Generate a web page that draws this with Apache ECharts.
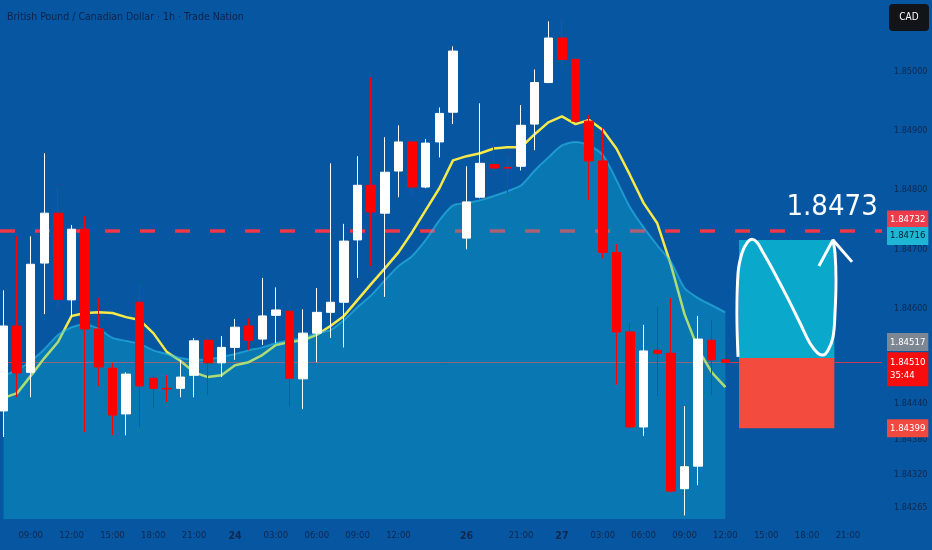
<!DOCTYPE html>
<html><head><meta charset="utf-8">
<script src="https://cdn.jsdelivr.net/npm/echarts@6/dist/echarts.min.js"></script>
<style>html,body{margin:0;padding:0;background:#0656a2;}#c{width:932px;height:550px;}</style>
</head><body><div id="c"></div>
<script>
const FONT = "'Liberation Sans Narrow','DejaVu Sans Condensed','Liberation Sans',sans-serif";
const titleText = 'British Pound / Canadian Dollar · 1h · Trade Nation';
const currency = 'CAD';

// hourly bars (x categories)
const categories = ['07:00','08:00','09:00','10:00','11:00','12:00','13:00','14:00','15:00','16:00',
 '17:00','18:00','19:00','20:00','21:00','22:00','23:00','24','01:00','02:00',
 '03:00','04:00','05:00','06:00','07:00','08:00','09:00','10:00','11:00','12:00',
 '13:00','14:00','15:00','16:00','26','18:00','19:00','20:00','21:00','22:00',
 '23:00','27','01:00','02:00','03:00','04:00','05:00','06:00','07:00','08:00',
 '09:00','10:00','11:00','12:00','13:00','14:00','15:00','16:00','17:00','18:00',
 '19:00','20:00','21:00','22:00','23:00'];
const labelIndex = [2,5,8,11,14,17,20,23,26,29,34,38,41,44,47,50,53,56,59,62];
const dayLabels = ['24','26','27'];
const yTicks = [1.85000,1.84900,1.84800,1.84700,1.84600,1.84440,1.84380,1.84320,1.84265];
const yMin = 1.84246, yMax = 1.85120;

const open = [1.84428,1.84571,1.84493,1.84677,1.84761,1.84615,1.84734,1.84566,1.84500,1.84423,
1.84611,1.84483,1.84466,1.84466,1.84488,1.84547,1.84509,1.84535,1.84571,1.84549,
1.84589,1.84596,1.84482,1.84559,1.84594,1.84611,1.84716,1.84808,1.84761,1.84832,
1.84881,1.84805,1.84881,1.84931,1.84719,1.84788,1.84843,1.84838,1.84840,1.84911,
1.84981,1.85056,1.85020,1.84916,1.84849,1.84695,1.84561,1.84401,1.84530,1.84525,
1.84297,1.84335,1.84547,1.84514];
const close = [1.84571,1.84492,1.84675,1.84761,1.84616,1.84734,1.84566,1.84502,1.84421,1.84490,
1.84470,1.84466,1.84465,1.84485,1.84546,1.84509,1.84535,1.84569,1.84547,1.84588,
1.84598,1.84483,1.84559,1.84594,1.84611,1.84714,1.84808,1.84763,1.84830,1.84881,
1.84805,1.84879,1.84929,1.85034,1.84780,1.84845,1.84837,1.84837,1.84909,1.84981,
1.85056,1.85020,1.84916,1.84849,1.84695,1.84561,1.84401,1.84529,1.84525,1.84293,
1.84334,1.84549,1.84514,1.84510];
const low = [1.84384,1.84451,1.84451,1.84591,1.84603,1.84586,1.84392,1.84470,1.84387,1.84387,
1.84401,1.84433,1.84443,1.84451,1.84451,1.84455,1.84485,1.84514,1.84530,1.84539,
1.84542,1.84435,1.84431,1.84510,1.84551,1.84535,1.84652,1.84672,1.84620,1.84788,
1.84791,1.84803,1.84855,1.84911,1.84700,1.84786,1.84835,1.84795,1.84833,1.84867,
1.84980,1.85010,1.84914,1.84783,1.84685,1.84472,1.84399,1.84386,1.84453,1.84291,
1.84252,1.84303,1.84455,1.84507];
const high = [1.84631,1.84722,1.84722,1.84862,1.84805,1.84741,1.84756,1.84618,1.84509,1.84493,
1.84640,1.84487,1.84488,1.84514,1.84551,1.84552,1.84554,1.84583,1.84584,1.84652,
1.84636,1.84615,1.84599,1.84635,1.84845,1.84743,1.84857,1.84990,1.84889,1.84909,
1.84884,1.84886,1.84939,1.85042,1.84840,1.84946,1.84881,1.84859,1.84943,1.85003,
1.85084,1.85086,1.85024,1.84926,1.84904,1.84709,1.84576,1.84573,1.84603,1.84618,
1.84436,1.84588,1.84581,1.84517];
const ema = [1.84450,1.84458,1.84487,1.84517,1.84544,1.84588,1.84593,1.84594,1.84593,1.84586,
1.84581,1.84559,1.84527,1.84512,1.84493,1.84485,1.84488,1.84505,1.84510,1.84522,
1.84539,1.84544,1.84547,1.84556,1.84571,1.84588,1.84615,1.84642,1.84668,1.84695,
1.84729,1.84766,1.84803,1.84850,1.84857,1.84862,1.84870,1.84872,1.84872,1.84894,
1.84914,1.84924,1.84911,1.84918,1.84901,1.84870,1.84825,1.84778,1.84744,1.84674,
1.84591,1.84532,1.84493,1.84468];
const baseline = [1.84487,1.84497,1.84512,1.84532,1.84556,1.84569,1.84573,1.84566,1.84551,1.84546,
1.84541,1.84530,1.84524,1.84517,1.84514,1.84515,1.84519,1.84524,1.84530,1.84535,
1.84542,1.84547,1.84551,1.84559,1.84564,1.84581,1.84603,1.84623,1.84648,1.84672,
1.84689,1.84716,1.84749,1.84774,1.84778,1.84783,1.84790,1.84798,1.84808,1.84833,
1.84855,1.84875,1.84881,1.84875,1.84859,1.84817,1.84771,1.84737,1.84707,1.84679,
1.84635,1.84618,1.84606,1.84594];

// price levels
const resistance = 1.84732, target = 1.84716, entry = 1.84517, lastPrice = 1.84510, stop = 1.84399;
const countdown = '35:44';
const zoneStart = 54, zoneEnd = 61;
// hand-drawn projection (bar position, price)
const curveX = [53.93,53.85,53.93,54.22,54.59,54.96,55.32,55.76,56.50,57.53,58.48,59.21,59.80,60.17,60.54,60.90,61.05,61.12,61.05,60.90];
const curveY = [1.84519,1.84593,1.84660,1.84694,1.84711,1.84717,1.84712,1.84695,1.84665,1.84620,1.84576,1.84542,1.84525,1.84522,1.84530,1.84552,1.84593,1.84648,1.84694,1.84716];
const arrowX = [59.87,60.90,62.30];
const arrowY = [1.84672,1.84716,1.84679];
const bigLabel = '1.8473';
const bigLabelPos = [57.45, 1.84771];

const candleData = open.map((o,i)=>[o, close[i], low[i], high[i]]);
const curveData = curveX.map((x,i)=>[x, curveY[i]]);
const arrowData = arrowX.map((x,i)=>[x, arrowY[i]]);

function tagLabel(text, bg, fg, dy, extra) {
  return Object.assign({show: true, position: 'end', distance: 5, formatter: text,
      backgroundColor: bg, color: fg, padding: [3,3], fontSize: 9.5, lineHeight: 12,
      fontFamily: FONT, offset: [0, dy], opacity: 1}, extra || {});
}
function tag(value, bg, fg, dy) {
  return {yAxis: value, lineStyle: {color: 'rgba(0,0,0,0)', width: 1, opacity: 1},
    label: tagLabel(value.toFixed(5), bg, fg, dy)};
}

const chart = echarts.init(document.getElementById('c'), null, {renderer: 'canvas'});
chart.setOption({
  animation: false,
  backgroundColor: '#0656a2',
  textStyle: {fontFamily: FONT},
  title: {text: titleText, left: 2, top: 7,
    textStyle: {color: '#0e2247', fontSize: 10.5, fontWeight: 'normal', fontFamily: FONT}},
  grid: {left: -3.31, right: 50, top: 0, bottom: 31, outerBoundsMode: 'none'},
  xAxis: [{
    type: 'category', data: categories, boundaryGap: true,
    axisLine: {show: false}, axisTick: {show: false}, splitLine: {show: false},
    axisLabel: {
      interval: (i) => labelIndex.includes(i),
      color: '#10284d', fontSize: 9.5, margin: 12, fontFamily: FONT,
      formatter: (v) => dayLabels.includes(v) ? '{d|' + v + '}' : v,
      rich: {d: {fontWeight: 'bold', color: '#10284d', fontSize: 10.5, fontFamily: FONT}}
    }
  }, {
    type: 'value', min: -0.5, max: categories.length - 0.5, show: false
  }],
  yAxis: {
    type: 'value', position: 'right', min: yMin, max: yMax, scale: true,
    splitLine: {show: false}, axisLine: {show: false}, axisTick: {show: false},
    axisLabel: {customValues: yTicks, formatter: (v) => v.toFixed(5),
      color: '#10284d', fontSize: 9, margin: 12, fontFamily: FONT}
  },
  graphic: [
    {type: 'rect', x: 889, y: 4, shape: {width: 40, height: 27, r: 4}, style: {fill: '#111418'}, z: 100},
    {type: 'text', x: 909, y: 17.5, style: {text: currency, fill: '#ffffff', font: '10px ' + FONT,
      align: 'center', verticalAlign: 'middle', textAlign: 'center', textVerticalAlign: 'middle'}, z: 101}
  ],
  series: [
    {
      name: 'EMA', type: 'line', data: ema, symbol: 'none', silent: true, z: 1,
      lineStyle: {color: '#f7e948', width: 2.5},
      markLine: {
        silent: true, symbol: ['none', 'none'], animation: false, precision: 5, z: 1,
        data: [
          {yAxis: resistance,
           lineStyle: {color: '#f23645', width: 3.5, type: [15, 20], dashOffset: 31.7, opacity: 1},
           label: tagLabel(resistance.toFixed(5), '#ec3b4a', '#ffffff', -11)},
          tag(target, '#1fb6d6', '#0b1a33', -4),
          tag(entry, '#7d8793', '#ffffff', -16),
          {yAxis: lastPrice,
           lineStyle: {color: '#f23645', width: 1, type: 'solid', opacity: 0.8},
           label: tagLabel(lastPrice.toFixed(5) + '\n' + countdown, '#f70d0d', '#ffffff', 7,
             {padding: [4,3], lineHeight: 13})},
          tag(stop, '#f0493d', '#ffffff', 0)
        ]
      }
    },
    {
      name: 'Baseline', type: 'line', data: baseline, symbol: 'none', silent: true, z: 2, smooth: 0.25,
      lineStyle: {color: 'rgba(50,195,235,0.55)', width: 2},
      areaStyle: {color: 'rgba(16,191,213,0.45)', origin: 'start'}
    },
    {
      name: 'GBPCAD', type: 'candlestick', data: candleData, barWidth: 9, silent: true, z: 3,
      itemStyle: {color: '#ffffff', color0: '#ff0000', borderColor: '#ffffff', borderColor0: '#ff0000', borderWidth: 1}
    },
    {
      name: 'Zones', type: 'line', xAxisIndex: 1, data: [], silent: true, z: 4,
      markArea: {
        silent: true, z: 4,
        data: [
          [{coord: [zoneStart, target], itemStyle: {color: '#0aa8cb', opacity: 1}}, {coord: [zoneEnd, entry]}],
          [{coord: [zoneStart, entry], itemStyle: {color: '#f34b3d', opacity: 1}}, {coord: [zoneEnd, stop]}]
        ]
      }
    },
    {
      name: 'Projection', type: 'line', xAxisIndex: 1, data: curveData, smooth: 0.4, symbol: 'none', silent: true, z: 5,
      lineStyle: {color: '#ffffff', width: 3},
      markPoint: {
        silent: true, symbol: 'circle', symbolSize: 1, itemStyle: {color: 'rgba(0,0,0,0)'}, z: 6,
        data: [{coord: bigLabelPos,
          label: {show: true, position: 'right', distance: 0, formatter: bigLabel,
            color: '#ffffff', fontSize: 29, fontFamily: FONT}}]
      }
    },
    {
      name: 'Arrow', type: 'line', xAxisIndex: 1, data: arrowData, symbol: 'none', silent: true, z: 5,
      lineStyle: {color: '#ffffff', width: 3}
    }
  ]
});
</script>
</body></html>
